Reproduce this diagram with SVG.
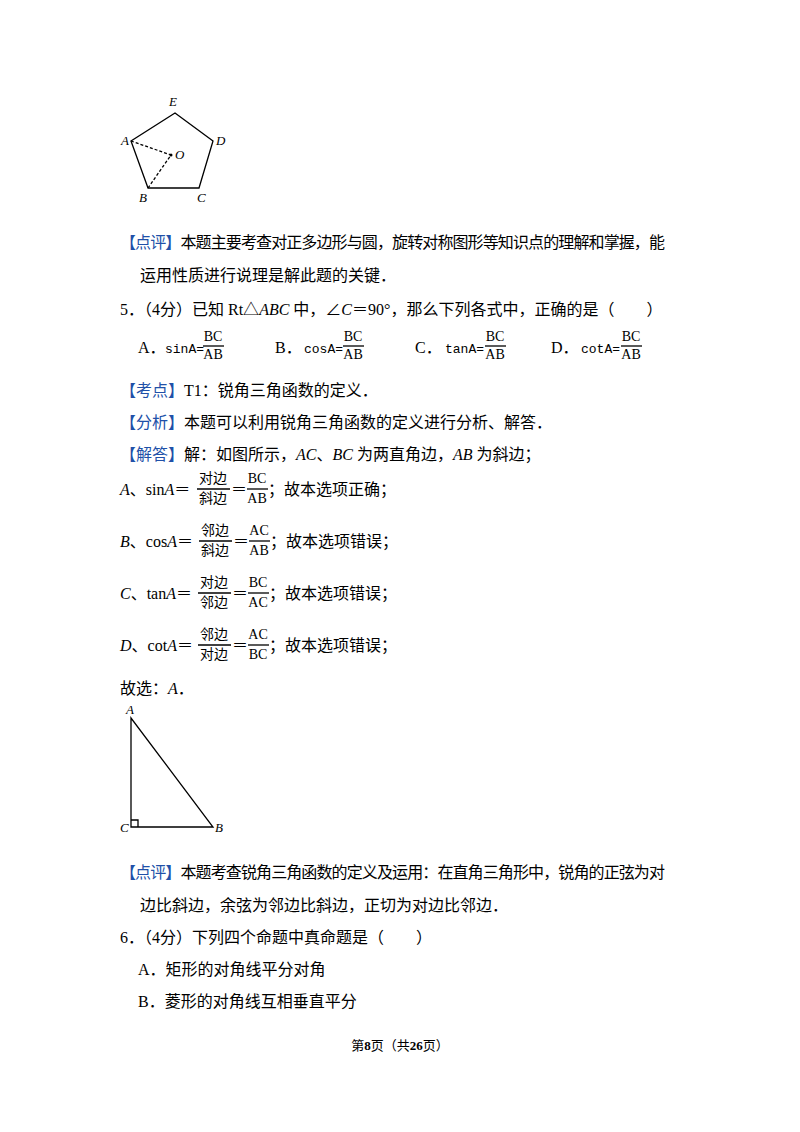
<svg xmlns="http://www.w3.org/2000/svg" width="800" height="1132" viewBox="0 0 800 1132">
<style>
text{font-family:"Liberation Serif","Noto Sans CJK SC",serif;font-size:16px;fill:#000}
.b{fill:#2050a8}
.i{font-style:italic}
.m{font-family:"Liberation Mono",monospace;font-size:13px}
.f{font-size:14px;text-anchor:middle}
.s{font-size:13px;font-style:italic}
line,polyline,polygon{stroke:#000;fill:none;stroke-width:1.3}
</style>
<rect width="800" height="1132" fill="#fff"/>
<g id="pentagon">
<polygon points="175,113 213,141 199,188 148,188 131,141"/>
<line x1="131" y1="141" x2="171" y2="155" stroke-dasharray="3,2"/>
<line x1="148" y1="188" x2="171" y2="155" stroke-dasharray="3,2"/>
<circle cx="171" cy="155" r="1.5"/>
<text x="169" y="106" class="s">E</text>
<text x="121" y="145" class="s">A</text>
<text x="216" y="145" class="s">D</text>
<text x="175" y="159" class="s">O</text>
<text x="139" y="202" class="s">B</text>
<text x="197" y="202" class="s">C</text>
</g>
<text x="120" y="248" textLength="545"><tspan class="b">【点评】</tspan>本题主要考查对正多边形与圆，旋转对称图形等知识点的理解和掌握，能</text>
<text x="140" y="281">运用性质进行说理是解此题的关键．</text>
<text x="120" y="315">5．（4分）已知 Rt△<tspan class="i">ABC</tspan> 中，∠<tspan class="i">C</tspan>＝90°，那么下列各式中，正确的是（　　）</text>
<g id="options">
<text x="138" y="353">A．</text><text x="165" y="353" class="m">sinA=</text>
<text x="213" y="341" class="f">BC</text><line x1="203" y1="346" x2="224" y2="346" stroke-width="1"/><text x="213" y="359" class="f">AB</text>
<text x="275" y="353">B．</text><text x="304" y="353" class="m">cosA=</text>
<text x="353" y="341" class="f">BC</text><line x1="343" y1="346" x2="364" y2="346" stroke-width="1"/><text x="353" y="359" class="f">AB</text>
<text x="415" y="353">C．</text><text x="445" y="353" class="m">tanA=</text>
<text x="495" y="341" class="f">BC</text><line x1="485" y1="346" x2="506" y2="346" stroke-width="1"/><text x="495" y="359" class="f">AB</text>
<text x="551" y="353">D．</text><text x="581" y="353" class="m">cotA=</text>
<text x="631" y="341" class="f">BC</text><line x1="621" y1="346" x2="642" y2="346" stroke-width="1"/><text x="631" y="359" class="f">AB</text>
</g>
<text x="120" y="396"><tspan class="b">【考点】</tspan>T1：锐角三角函数的定义．</text>
<text x="120" y="428"><tspan class="b">【分析】</tspan>本题可以利用锐角三角函数的定义进行分析、解答．</text>
<text x="120" y="460"><tspan class="b">【解答】</tspan>解：如图所示，<tspan class="i">AC</tspan>、<tspan class="i">BC</tspan> 为两直角边，<tspan class="i">AB</tspan> 为斜边；</text>
<g id="rows">
<text x="120" y="495"><tspan class="i">A</tspan>、sin<tspan class="i">A</tspan>＝</text>
<text x="213" y="483" class="f">对边</text><line x1="197" y1="489" x2="230" y2="489" stroke-width="1"/><text x="213" y="503" class="f">斜边</text>
<text x="231" y="495">＝</text>
<text x="257" y="483" class="f">BC</text><line x1="247" y1="489" x2="268" y2="489" stroke-width="1"/><text x="257" y="503" class="f">AB</text>
<text x="268" y="495">；故本选项正确；</text>

<text x="120" y="547"><tspan class="i">B</tspan>、cos<tspan class="i">A</tspan>＝</text>
<text x="215" y="535" class="f">邻边</text><line x1="199" y1="541" x2="232" y2="541" stroke-width="1"/><text x="215" y="555" class="f">斜边</text>
<text x="233" y="547">＝</text>
<text x="259" y="535" class="f">AC</text><line x1="249" y1="541" x2="270" y2="541" stroke-width="1"/><text x="259" y="555" class="f">AB</text>
<text x="270" y="547">；故本选项错误；</text>

<text x="120" y="599"><tspan class="i">C</tspan>、tan<tspan class="i">A</tspan>＝</text>
<text x="214" y="587" class="f">对边</text><line x1="198" y1="593" x2="231" y2="593" stroke-width="1"/><text x="214" y="607" class="f">邻边</text>
<text x="232" y="599">＝</text>
<text x="258" y="587" class="f">BC</text><line x1="248" y1="593" x2="269" y2="593" stroke-width="1"/><text x="258" y="607" class="f">AC</text>
<text x="269" y="599">；故本选项错误；</text>

<text x="120" y="651"><tspan class="i">D</tspan>、cot<tspan class="i">A</tspan>＝</text>
<text x="214" y="639" class="f">邻边</text><line x1="198" y1="645" x2="231" y2="645" stroke-width="1"/><text x="214" y="659" class="f">对边</text>
<text x="232" y="651">＝</text>
<text x="258" y="639" class="f">AC</text><line x1="248" y1="645" x2="269" y2="645" stroke-width="1"/><text x="258" y="659" class="f">BC</text>
<text x="269" y="651">；故本选项错误；</text>
</g>
<text x="120" y="694">故选：<tspan class="i">A</tspan>．</text>
<g id="triangle">
<polygon points="131,718 131,827 213,827"/>
<polyline points="131,820 138,820 138,827" stroke-width="1"/>
<text x="126" y="714" class="s">A</text>
<text x="120" y="832" class="s">C</text>
<text x="215" y="832" class="s">B</text>
</g>
<text x="120" y="878" textLength="545"><tspan class="b">【点评】</tspan>本题考查锐角三角函数的定义及运用：在直角三角形中，锐角的正弦为对</text>
<text x="140" y="911">边比斜边，余弦为邻边比斜边，正切为对边比邻边．</text>
<text x="120" y="943">6．（4分）下列四个命题中真命题是（　　）</text>
<text x="138" y="975">A．矩形的对角线平分对角</text>
<text x="138" y="1007">B．菱形的对角线互相垂直平分</text>
<text x="400" y="1050" style="font-size:13px;text-anchor:middle">第<tspan font-weight="bold">8</tspan>页（共<tspan font-weight="bold">26</tspan>页）</text>
</svg>
